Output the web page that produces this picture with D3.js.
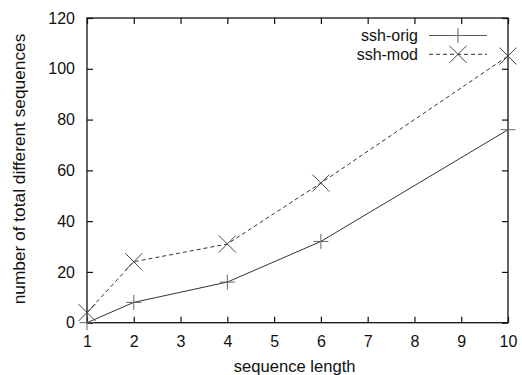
<!DOCTYPE html>
<html><head><meta charset="utf-8">
<script src="https://cdn.jsdelivr.net/npm/d3@7"></script>
<style>body{margin:0;background:#fff}svg{display:block}text{font-family:"Liberation Sans",Arial,Helvetica,sans-serif;fill:#111}</style>
</head><body><svg id="c" width="522" height="375"></svg>
<script>
const seqLength = [1, 2, 4, 6, 10];
const sshOrig = [0, 8, 16, 32, 76];
const sshMod = [4, 24, 31, 55, 105];
const xTicks = [1,2,3,4,5,6,7,8,9,10];
const yTicks = [0,20,40,60,80,100,120];
const seriesNames = ["ssh-orig", "ssh-mod"];

const svg = d3.select("#c");
const L = 87, R = 508, T = 18, B = 322.7;
const x = d3.scaleLinear().domain([1,10]).range([L,R]);
const y = d3.scaleLinear().domain([0,120]).range([B,T]);
const tk = 6;

const axB = svg.append("g").attr("transform",`translate(0,${B})`)
  .call(d3.axisBottom(x).tickValues(xTicks).tickSizeInner(-tk).tickSizeOuter(0).tickPadding(12));
const axT = svg.append("g").attr("transform",`translate(0,${T})`)
  .call(d3.axisTop(x).tickValues(xTicks).tickSizeInner(-tk).tickSizeOuter(0).tickFormat(""));
const axL = svg.append("g").attr("transform",`translate(${L},0)`)
  .call(d3.axisLeft(y).tickValues(yTicks).tickSizeInner(-tk).tickSizeOuter(0).tickPadding(12));
const axR = svg.append("g").attr("transform",`translate(${R},0)`)
  .call(d3.axisRight(y).tickValues(yTicks).tickSizeInner(-tk).tickSizeOuter(0).tickFormat(""));
[axB,axT,axL,axR].forEach(a=>{
  a.select(".domain").remove();
  a.selectAll("line").attr("stroke","#111").attr("stroke-width",1.2);
  a.selectAll("text").attr("font-size",16).attr("fill","#111")
   .style("font-family",'"Liberation Sans",Arial,sans-serif');
});
axB.selectAll("text").attr("dy","0.76em");
svg.append("rect").attr("x",L).attr("y",T).attr("width",R-L).attr("height",B-T)
  .attr("fill","none").attr("stroke","#111").attr("stroke-width",1.3);

const line = d3.line().x(d=>x(d[0])).y(d=>y(d[1]));
const dOrig = seqLength.map((v,i)=>[v,sshOrig[i]]);
const dMod = seqLength.map((v,i)=>[v,sshMod[i]]);

svg.append("path").datum(dOrig).attr("d",line).attr("fill","none").attr("stroke","#333").attr("stroke-width",1);
svg.append("path").datum(dMod).attr("d",line).attr("fill","none").attr("stroke","#333").attr("stroke-width",1).attr("stroke-dasharray","4,3");

function plus(g,cx,cy){
  const s=7.5;
  g.append("path").attr("d",`M${cx-s},${cy}H${cx+s}M${cx},${cy-s}V${cy+s}`).attr("stroke","#666").attr("stroke-width",1).attr("fill","none");
}
function cross(g,cx,cy){
  const s=8.5;
  g.append("path").attr("d",`M${cx-s},${cy-s}L${cx+s},${cy+s}M${cx-s},${cy+s}L${cx+s},${cy-s}`).attr("stroke","#444").attr("stroke-width",1).attr("fill","none");
}
const mk = svg.append("g");
dOrig.forEach(d=>plus(mk,x(d[0]),y(d[1])));
dMod.forEach(d=>cross(mk,x(d[0]),y(d[1])));

// legend
const lg = svg.append("g");
lg.append("text").attr("x",418).attr("y",41).attr("text-anchor","end").attr("font-size",16).text(seriesNames[0]);
lg.append("line").attr("x1",429).attr("x2",487).attr("y1",35.5).attr("y2",35.5).attr("stroke","#555").attr("stroke-width",1);
plus(lg,458,35.5);
lg.append("text").attr("x",418).attr("y",59.5).attr("text-anchor","end").attr("font-size",16).text(seriesNames[1]);
lg.append("line").attr("x1",429).attr("x2",487).attr("y1",54.3).attr("y2",54.3).attr("stroke","#333").attr("stroke-width",1).attr("stroke-dasharray","4,3");
cross(lg,458,54.3);

svg.append("text").attr("x",294.7).attr("y",371.5).attr("text-anchor","middle").attr("font-size",16.6).text("sequence length");
svg.append("text").attr("transform",`translate(25,169) rotate(-90)`).attr("text-anchor","middle").attr("font-size",17.3).text("number of total different sequences");
</script></body></html>
